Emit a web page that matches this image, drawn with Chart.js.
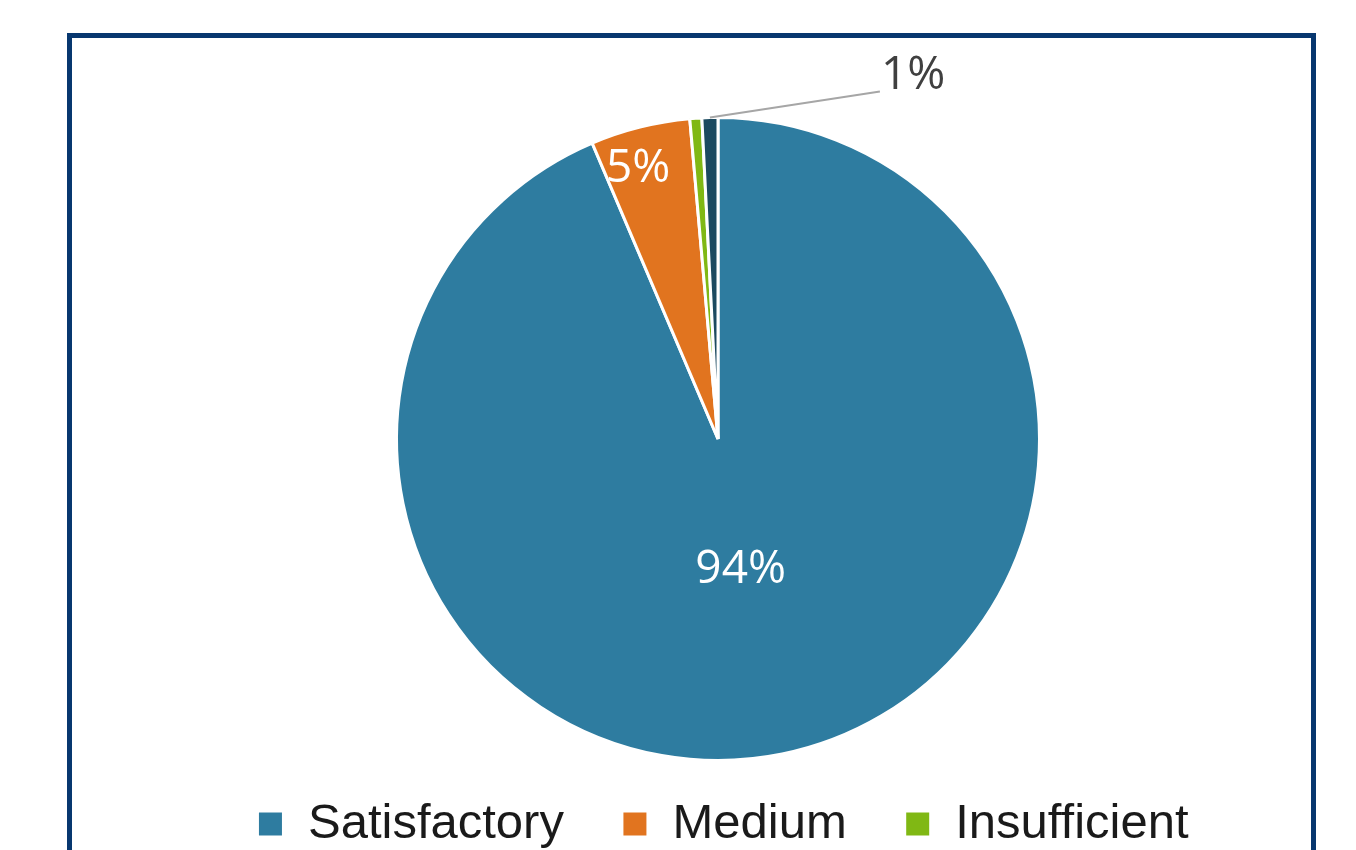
<!DOCTYPE html>
<html>
<head>
<meta charset="utf-8">
<script src="https://cdn.jsdelivr.net/npm/chart.js@4/dist/chart.umd.min.js"></script>
<style>
  html, body { margin: 0; padding: 0; background: #ffffff; overflow: hidden; width: 1356px; height: 850px; }
  #frame { position: absolute; left: 67px; top: 33px; width: 1249px; height: 900px; box-sizing: border-box; border: 5px solid #07376f; }
  #wrap { position: absolute; left: 80px; top: 0px; width: 1276px; height: 879px; }
</style>
</head>
<body>
<div id="frame"></div>
<div id="wrap"><canvas id="c"></canvas></div>
<script>
const categories = ["Satisfactory", "Medium", "Insufficient", "Other"];
const values = [93.6, 5.0, 0.6, 0.8];
const valueLabels = ["94%", "5%", "", "1%"];
const colors = ["#2e7ca0", "#e1741f", "#80b814", "#1c4a60"];
const legendCount = 3;

const labelPlugin = {
  id: 'sliceLabels',
  afterLayout(chart) {
    const lg = chart.legend;
    if (lg) { lg.top -= 20.5; lg.bottom -= 20.5; lg.left += 5; lg.right += 5; }
  },
  afterDatasetsDraw(chart) {
    const ctx = chart.ctx;
    const meta = chart.getDatasetMeta(0);
    ctx.save();
    ctx.font = '46px "Open Sans"';
    ctx.textBaseline = 'middle';
    meta.data.forEach((arc, i) => {
      const txt = valueLabels[i];
      if (!txt) return;
      const p = arc.getProps(['x', 'y', 'startAngle', 'endAngle', 'outerRadius'], true);
      const mid = (p.startAngle + p.endAngle) / 2;
      if (i === 0 || i === 1) {
        const f = i === 0 ? 0.40 : 0.87;
        const nx = i === 0 ? -3 : -12;
        const ny = i === 0 ? 5 : 1;
        const tx = p.x + Math.cos(mid) * p.outerRadius * f + nx;
        const ty = p.y + Math.sin(mid) * p.outerRadius * f + ny;
        ctx.fillStyle = '#ffffff';
        ctx.textAlign = 'center';
        ctx.fillText(txt, tx, ty);
      } else {
        const sx = p.x + Math.cos(mid) * p.outerRadius;
        const sy = p.y + Math.sin(mid) * p.outerRadius;
        const ex = sx + 170, ey = sy - 26;
        ctx.strokeStyle = '#a6a6a6';
        ctx.lineWidth = 2;
        ctx.beginPath();
        ctx.moveTo(sx, sy);
        ctx.lineTo(ex, ey);
        ctx.stroke();
        ctx.fillStyle = '#404040';
        ctx.textAlign = 'left';
        ctx.fillText(txt, ex + 1, ey - 16);
      }
    });
    ctx.restore();
  }
};

new Chart(document.getElementById('c'), {
  type: 'pie',
  data: {
    labels: categories,
    datasets: [{
      data: values,
      backgroundColor: colors,
      borderColor: '#ffffff',
      borderWidth: 3,
      hoverBorderWidth: 3
    }]
  },
  options: {
    responsive: true,
    maintainAspectRatio: false,
    animation: false,
    layout: { padding: { top: 116 } },
    plugins: {
      tooltip: { enabled: false },
      legend: {
        position: 'bottom',
        labels: {
          font: { family: '"Liberation Sans", Arial, sans-serif', size: 49 },
          color: '#1a1a1a',
          boxWidth: 26,
          boxHeight: 26,
          padding: 58,
          filter: (item) => item.index < legendCount
        }
      }
    }
  },
  plugins: [labelPlugin]
});
</script>
</body>
</html>
